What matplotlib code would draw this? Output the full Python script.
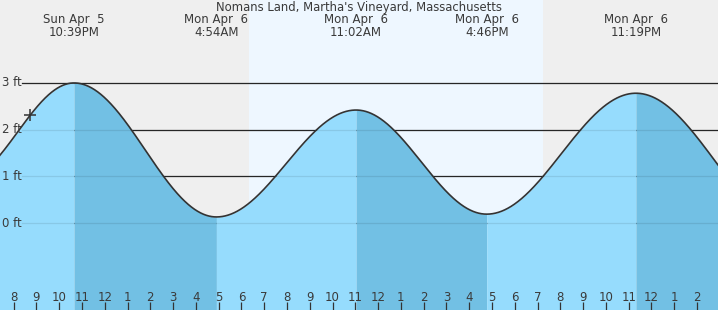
import numpy as np
import matplotlib
matplotlib.use("Agg")
import matplotlib.pyplot as plt
from matplotlib.transforms import blended_transform_factory

# ---- data (hours relative to midnight Mon Apr 6; heights in ft) ----
title = "Nomans Land, Martha's Vineyard, Massachusetts"
extreme_times = [-6.30, -1.35, 4.90, 11.033, 16.767, 23.317, 30.26]
extreme_heights = [0.90, 3.00, 0.13, 2.42, 0.19, 2.78, -0.12]
extreme_labels = [None, "Sun Apr  5\n10:39PM", "Mon Apr  6\n4:54AM",
                  "Mon Apr  6\n11:02AM", "Mon Apr  6\n4:46PM",
                  "Mon Apr  6\n11:19PM", None]
sunrise = 6.335
sunset = 19.24
now_time = -3.28
y_ticks = [0, 1, 2, 3]
y_tick_labels = ["0 ft", "1 ft", "2 ft", "3 ft"]
hour_ticks = list(range(-4, 27))
hour_labels = [str((h % 12) or 12) for h in hour_ticks]

x_min, x_max = -4.60, 26.92
y_min, y_max = -1.863, 4.777

night_bg = "#efefef"
day_bg = "#eef7ff"
rise_fill = "#96dcfd"
fall_fill = "#72c0e4"
text_col = "#3a3a3a"

plt.rcParams['font.family'] = ['DejaVu Sans']

fig = plt.figure(figsize=(7.18, 3.10), dpi=100)
ax = fig.add_axes([0, 0, 1, 1])
ax.set_xlim(x_min, x_max)
ax.set_ylim(y_min, y_max)
ax.set_facecolor(night_bg)
for s in ax.spines.values():
    s.set_visible(False)

ax.axvspan(sunrise, sunset, color=day_bg, zorder=0, lw=0)


# tide curve: cosine between successive extremes
def curve(tt):
    out = np.empty_like(tt)
    for i in range(len(extreme_times) - 1):
        t0, t1 = extreme_times[i], extreme_times[i + 1]
        h0, h1 = extreme_heights[i], extreme_heights[i + 1]
        m = (tt >= t0) & (tt <= t1)
        ph = np.pi * (tt[m] - t0) / (t1 - t0)
        out[m] = h0 + (h1 - h0) * (1 - np.cos(ph)) / 2
    return out


# grid lines behind fill
gx0 = 22 / 718
for yv in y_ticks:
    ax.axhline(yv, xmin=gx0, xmax=1, color="#2a2a2a", lw=0.9, zorder=1)

for i in range(len(extreme_times) - 1):
    t0, t1 = extreme_times[i], extreme_times[i + 1]
    tt = np.linspace(t0, t1, 200)
    col = fall_fill if extreme_heights[i + 1] < extreme_heights[i] else rise_fill
    ax.fill_between(tt, y_min, curve(tt), color=col, lw=0, zorder=2)

for yv in y_ticks:
    ax.axhline(yv, xmin=gx0, xmax=1, color="black", alpha=0.09, lw=0.9, zorder=3)

tt = np.linspace(extreme_times[0], extreme_times[-1], 3000)
ax.plot(tt, curve(tt), color="#333333", lw=1.2, zorder=4)

ax.plot([now_time], curve(np.array([now_time])), marker="+", ms=9, mew=1.1,
        color="#333333", zorder=5)

# y labels
trans_y = blended_transform_factory(ax.transAxes, ax.transData)
for yv, lab in zip(y_ticks, y_tick_labels):
    ax.text(2 / 718, yv, lab, transform=trans_y, ha="left", va="center",
            fontsize=8.5, color=text_col, zorder=6)

# extreme labels at top
trans_x = blended_transform_factory(ax.transData, ax.transAxes)
for t, lab in zip(extreme_times, extreme_labels):
    if lab:
        ax.text(t, 1 - 26 / 310, lab, transform=trans_x, ha="center", va="center",
                fontsize=8.5, color=text_col, linespacing=0.95, zorder=6)

ax.text(0.5, 1 - 8 / 310, title, transform=ax.transAxes, ha="center",
        va="center", fontsize=8.4, color=text_col, zorder=6)

# hour ticks at bottom (inside)
ax.set_yticks([])
ax.set_xticks(hour_ticks)
ax.set_xticklabels(hour_labels)
ax.tick_params(axis="x", direction="in", length=5.8, width=0.9, color="#333333",
               pad=-14, labelsize=8.5, labelcolor=text_col)
for h, tk in zip(hour_ticks, ax.xaxis.get_major_ticks()):
    tk.tick1line.set_zorder(6)
    if h % 24 == 0:
        tk.tick1line.set_linewidth(2.2)
        tk.tick1line.set_color("#222222")
ax.set_axisbelow(False)

fig.savefig("out.png", dpi=100)
